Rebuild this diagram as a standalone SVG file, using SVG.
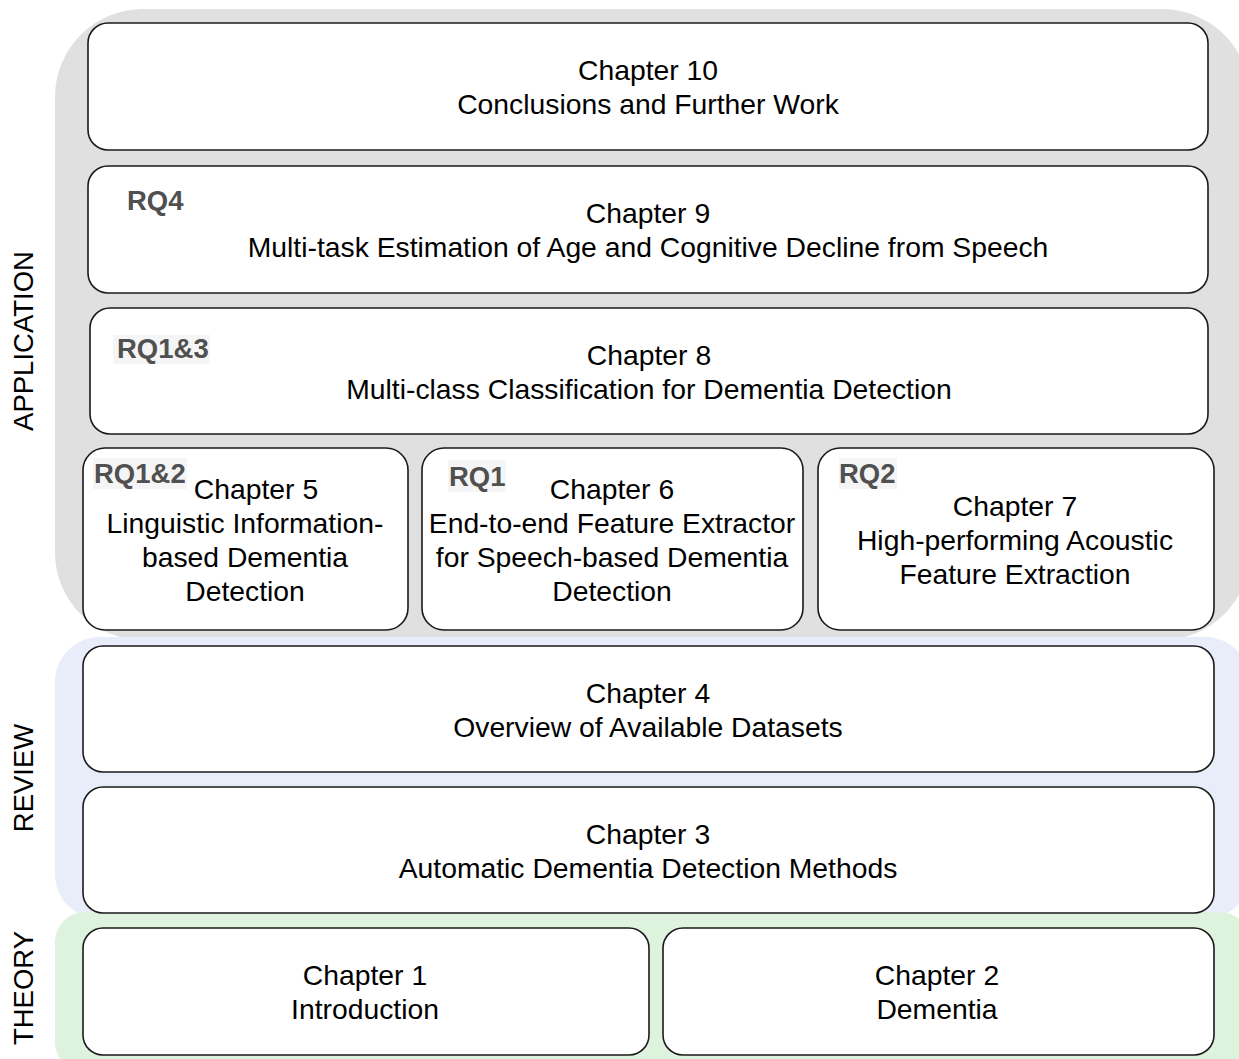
<svg xmlns="http://www.w3.org/2000/svg" width="1239" height="1059" viewBox="0 0 1239 1059">
  <style>
    .node { fill: #ffffff; stroke: #1a1a1a; stroke-width: 1.6; }
    .t { font-family: "Liberation Sans", Arial, sans-serif; font-size: 28.3px; fill: #000000; text-anchor: middle; }
    .rq { font-family: "Liberation Sans", Arial, sans-serif; font-size: 27.5px; font-weight: bold; fill: #505050; }
    .rqbg { fill: #f5f5f5; }
    .side { font-family: "Liberation Sans", Arial, sans-serif; font-size: 27.5px; fill: #000000; text-anchor: middle; }
  </style>

  <!-- layer bands -->
  <g id="bands">
    <rect x="55" y="9" width="1195" height="631" rx="88" fill="#e0e0e0"/>
    <rect x="55" y="637" width="1195" height="282" rx="45" fill="#e9edf9"/>
    <rect x="55" y="912" width="1195" height="160" rx="30" fill="#def3dd"/>
  </g>

  <!-- band titles -->
  <g id="labels">
    <text class="side" transform="translate(33,341) rotate(-90)">APPLICATION</text>
    <text class="side" transform="translate(33,778) rotate(-90)">REVIEW</text>
    <text class="side" transform="translate(33,988) rotate(-90)">THEORY</text>
  </g>

  <g id="connectors"/>

  <g id="ch10">
    <rect class="node" x="88" y="23" width="1120" height="127" rx="20"/>
    <text class="t" x="648" y="80">Chapter 10</text>
    <text class="t" x="648" y="114">Conclusions and Further Work</text>
  </g>

  <g id="ch9">
    <rect class="node" x="88" y="166" width="1120" height="127" rx="20"/>
    <text class="rq" x="127" y="210">RQ4</text>
    <text class="t" x="648" y="223">Chapter 9</text>
    <text class="t" x="648" y="257">Multi-task Estimation of Age and Cognitive Decline from Speech</text>
  </g>

  <g id="ch8">
    <rect class="node" x="90" y="308" width="1118" height="126" rx="20"/>
    <rect class="rqbg" x="113" y="335" width="97" height="29"/>
    <text class="rq" x="117" y="358">RQ1&amp;3</text>
    <text class="t" x="649" y="365">Chapter 8</text>
    <text class="t" x="649" y="399">Multi-class Classification for Dementia Detection</text>
  </g>

  <g id="ch5">
    <rect class="node" x="83" y="448" width="325" height="182" rx="22"/>
    <rect class="rqbg" x="93" y="458" width="94" height="31"/>
    <text class="rq" x="94" y="483">RQ1&amp;2</text>
    <text class="t" x="256" y="499">Chapter 5</text>
    <text class="t" x="245" y="533">Linguistic Information-</text>
    <text class="t" x="245" y="567">based Dementia</text>
    <text class="t" x="245" y="601">Detection</text>
  </g>

  <g id="ch6">
    <rect class="node" x="422" y="448" width="381" height="182" rx="22"/>
    <rect class="rqbg" x="448" y="460" width="58" height="32"/>
    <text class="rq" x="449" y="486">RQ1</text>
    <text class="t" x="612" y="499">Chapter 6</text>
    <text class="t" x="612" y="533">End-to-end Feature Extractor</text>
    <text class="t" x="612" y="567">for Speech-based Dementia</text>
    <text class="t" x="612" y="601">Detection</text>
  </g>

  <g id="ch7">
    <rect class="node" x="818" y="448" width="396" height="182" rx="22"/>
    <rect class="rqbg" x="839" y="458" width="58" height="31"/>
    <text class="rq" x="839" y="483">RQ2</text>
    <text class="t" x="1015" y="516">Chapter 7</text>
    <text class="t" x="1015" y="550">High-performing Acoustic</text>
    <text class="t" x="1015" y="584">Feature Extraction</text>
  </g>

  <g id="ch4">
    <rect class="node" x="83" y="646" width="1131" height="126" rx="20"/>
    <text class="t" x="648" y="703">Chapter 4</text>
    <text class="t" x="648" y="737">Overview of Available Datasets</text>
  </g>

  <g id="ch3">
    <rect class="node" x="83" y="787" width="1131" height="126" rx="20"/>
    <text class="t" x="648" y="844">Chapter 3</text>
    <text class="t" x="648" y="878">Automatic Dementia Detection Methods</text>
  </g>

  <g id="ch1">
    <rect class="node" x="83" y="928" width="566" height="127" rx="20"/>
    <text class="t" x="365" y="985">Chapter 1</text>
    <text class="t" x="365" y="1019">Introduction</text>
  </g>

  <g id="ch2">
    <rect class="node" x="663" y="928" width="551" height="127" rx="20"/>
    <text class="t" x="937" y="985">Chapter 2</text>
    <text class="t" x="937" y="1019">Dementia</text>
  </g>
</svg>
